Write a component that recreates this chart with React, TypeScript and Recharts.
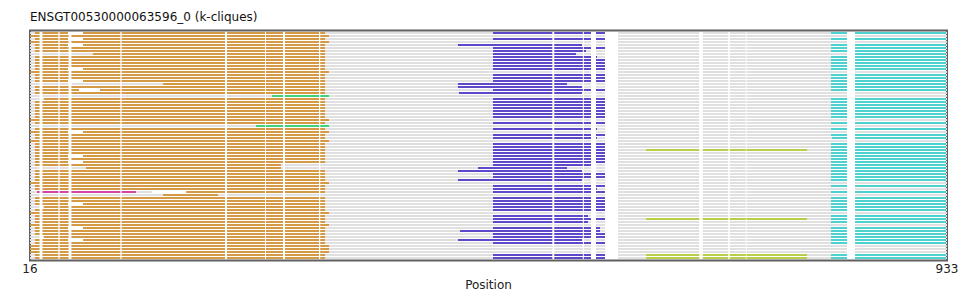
import React from 'react';
import { ComposedChart, Line, XAxis, YAxis, ReferenceArea } from 'recharts';

const TITLE = 'ENSGT00530000063596_0 (k-cliques)';
const X_LABEL = 'Position';
const X_TICKS = [16, 933];
const ROW_COUNT = 76;
const TRACK: [number, number] = [16, 933];
const ROW_PAD = 5 / 6;

// alignment gap columns shared by every sequence (positions)
const gapColumns: [number, number][] = [
  [25.5, 28.5], [44.3, 45.7], [54.5, 57.5], [106.3, 107.7], [211, 213], [251, 252], [269, 271], [305, 306.3],
  [538.3, 540.3], [568.8, 569.9], [577, 582], [591, 604], [685.2, 688.8], [714.2, 715.8], [731.8, 732.6], [833, 841],
];

// extra gaps for single sequences: [row, start, end]
const rowGaps: [number, number, number][] = [
  [0, 54, 69], [2, 54, 69], [4, 54, 69], [12, 54, 69], [16, 54, 69], [19, 65, 86],
  [33, 54, 69], [41, 54, 69], [43, 54, 69], [53, 138, 172], [57, 54, 69], [65, 54, 69], [69, 54, 69],
];

// clique runs: [row, start, end]
const orangeRuns: [number, number, number][] = [
  [0, 21, 311], [1, 16, 315], [2, 21, 311], [3, 16, 315], [4, 21, 311], [5, 21, 311], [6, 21, 311],
  [7, 79, 311], [8, 21, 311], [9, 21, 311], [10, 21, 311], [11, 21, 311], [12, 21, 311], [13, 16, 315],
  [14, 21, 311], [15, 21, 311], [16, 21, 311], [17, 149, 311], [18, 21, 311], [19, 21, 311], [20, 21, 311],
  [22, 30, 311], [23, 21, 311], [24, 21, 311], [25, 21, 311], [26, 21, 311], [27, 21, 311], [28, 21, 311],
  [29, 16, 315], [30, 21, 311], [32, 21, 311], [33, 16, 315], [34, 21, 311], [35, 21, 311], [36, 16, 315],
  [37, 21, 311], [38, 21, 311], [39, 21, 311], [40, 21, 311], [41, 21, 311], [42, 21, 311], [43, 21, 311],
  [44, 21, 267], [45, 72, 267], [46, 21, 311], [47, 21, 311], [48, 21, 311], [49, 21, 311], [50, 16, 315],
  [51, 21, 311], [52, 21, 311], [53, 172, 311], [54, 149, 204], [55, 21, 311], [56, 21, 311], [57, 21, 311],
  [58, 30, 311], [59, 21, 311], [60, 16, 315], [61, 21, 311], [62, 21, 311], [63, 21, 311], [64, 16, 315],
  [65, 21, 311], [66, 21, 311], [67, 21, 311], [68, 30, 311], [69, 21, 311], [70, 21, 311], [71, 16, 315],
  [72, 16, 315], [73, 16, 315], [74, 21, 311], [75, 21, 311],
];

const purpleRuns: [number, number, number][] = [
  [0, 479, 591], [2, 479, 591], [4, 444, 568], [5, 479, 591], [6, 479, 572], [7, 479, 562], [8, 479, 583],
  [9, 479, 591], [10, 479, 591], [11, 479, 591], [12, 479, 591], [14, 479, 591], [15, 479, 591], [16, 479, 591],
  [17, 444, 553], [18, 444, 568], [19, 479, 591], [20, 445, 568], [22, 479, 591], [23, 479, 591], [24, 479, 591],
  [25, 479, 591], [26, 479, 591], [27, 479, 591], [28, 479, 591], [30, 479, 591], [32, 479, 583], [34, 479, 591],
  [35, 479, 583], [37, 479, 591], [38, 479, 591], [39, 479, 591], [40, 479, 591], [41, 479, 591], [42, 479, 591],
  [43, 479, 591], [44, 479, 581], [45, 464, 553], [46, 444, 568], [47, 479, 591], [48, 479, 591], [49, 444, 568],
  [51, 479, 591], [52, 479, 583], [53, 479, 591], [55, 479, 591], [56, 479, 591], [57, 479, 591], [58, 479, 591],
  [59, 479, 591], [61, 479, 574], [62, 479, 591], [63, 479, 574], [65, 479, 586], [66, 446, 586], [67, 479, 591],
  [68, 479, 591], [69, 444, 568], [70, 479, 591], [74, 479, 591], [75, 479, 591],
];

const oliveRuns: [number, number, number][] = [
  [39, 632, 793], [62, 632, 793], [74, 632, 793], [75, 632, 793],
];

const cyanRuns: [number, number, number][] = [
  [0, 817, 932], [2, 817, 932], [4, 817, 932], [5, 817, 932], [6, 817, 932], [7, 833, 932], [8, 817, 932],
  [9, 817, 932], [10, 817, 932], [11, 817, 932], [12, 817, 932], [14, 817, 932], [15, 817, 932], [16, 817, 932],
  [17, 817, 932], [18, 817, 932], [19, 817, 932], [22, 817, 932], [23, 817, 932], [24, 817, 932], [25, 817, 932],
  [26, 817, 932], [27, 817, 932], [28, 817, 932], [30, 817, 932], [32, 817, 932], [34, 817, 932], [35, 818, 932],
  [37, 817, 932], [38, 817, 932], [39, 817, 932], [40, 817, 932], [41, 817, 932], [42, 817, 932], [43, 817, 932],
  [44, 817, 932], [45, 817, 932], [46, 817, 932], [47, 817, 932], [48, 817, 932], [49, 817, 932], [51, 817, 932],
  [53, 817, 932], [55, 817, 932], [56, 817, 932], [57, 817, 932], [58, 817, 932], [59, 817, 932], [61, 817, 932],
  [62, 817, 932], [63, 817, 932], [65, 817, 932], [66, 817, 932], [67, 817, 932], [68, 817, 932], [69, 817, 932],
  [70, 817, 932], [74, 817, 932], [75, 817, 932],
];

const greenRuns: [number, number, number][] = [
  [21, 258, 315], [31, 242, 315],
];

const magentaRuns: [number, number, number][] = [
  [53, 23, 122],
];

const COLORS = {
  track: '#e0e0e0',
  orange: '#d49a45',
  purple: '#5e48ca',
  olive: '#b9cd48',
  cyan: '#4ed2d0',
  green: '#3fd27c',
  magenta: '#d645a4',
  frame: '#606060',
};

type Pt = { x: number; y: number | null };

function cut(a: number, b: number, gaps: [number, number][]): [number, number][] {
  const out: [number, number][] = [];
  let s = a;
  const sorted = gaps.filter((g) => g[1] > a && g[0] < b).sort((p, q) => p[0] - q[0]);
  for (const [g0, g1] of sorted) {
    if (g0 > s) out.push([s, Math.min(g0, b)]);
    s = Math.max(s, g1);
    if (s >= b) break;
  }
  if (s < b) out.push([s, b]);
  return out;
}

function buildLine(runs: [number, number, number][]): Pt[] {
  const pts: Pt[] = [];
  for (const [row, a, b] of runs) {
    const gaps = gapColumns.concat(
      rowGaps.filter((g) => g[0] === row).map((g) => [g[1], g[2]] as [number, number])
    );
    for (const [s, e] of cut(a, b, gaps)) {
      pts.push({ x: s, y: row }, { x: e, y: row }, { x: e, y: null });
    }
  }
  return pts;
}

const trackRuns: [number, number, number][] = Array.from({ length: ROW_COUNT }, (_, r) => [r, TRACK[0], TRACK[1]]);

const series: { key: string; color: string; runs: [number, number, number][] }[] = [
  { key: 'track', color: COLORS.track, runs: trackRuns },
  { key: 'orange', color: COLORS.orange, runs: orangeRuns },
  { key: 'purple', color: COLORS.purple, runs: purpleRuns },
  { key: 'olive', color: COLORS.olive, runs: oliveRuns },
  { key: 'cyan', color: COLORS.cyan, runs: cyanRuns },
  { key: 'green', color: COLORS.green, runs: greenRuns },
  { key: 'magenta', color: COLORS.magenta, runs: magentaRuns },
];

export default function App() {
  return (
    <div
      style={{
        position: 'absolute',
        left: 0,
        top: 0,
        width: 977,
        height: 291,
        background: '#fff',
        fontFamily: '"DejaVu Sans", sans-serif',
      }}
    >
      <div
        style={{
          position: 'absolute',
          left: 30,
          top: 10,
          fontSize: 12,
          lineHeight: 'normal',
          color: '#111',
          whiteSpace: 'nowrap',
        }}
      >
        {TITLE}
      </div>
      <ComposedChart width={977} height={291} margin={{ top: 30.5, right: 30, bottom: 0.5, left: 30 }}>
        <XAxis
          type="number"
          dataKey="x"
          domain={[TRACK[0], TRACK[1]]}
          allowDataOverflow
          ticks={X_TICKS}
          interval={0}
          tickLine={false}
          axisLine={false}
          tickSize={0}
          tickMargin={4}
          height={30}
          tick={{ fill: '#222', fontSize: 12 }}
          label={{ value: X_LABEL, position: 'insideBottom', offset: 2, fill: '#222', fontSize: 12 }}
        />
        <YAxis
          type="number"
          dataKey="y"
          domain={[-ROW_PAD, ROW_COUNT - 1 + ROW_PAD]}
          reversed
          hide
          allowDataOverflow
        />
        {series.map((s) => (
          <Line
            key={s.key}
            data={buildLine(s.runs)}
            dataKey="y"
            type="linear"
            stroke={s.color}
            strokeWidth={2}
            dot={false}
            activeDot={false}
            connectNulls={false}
            isAnimationActive={false}
          />
        ))}
        <ReferenceArea
          x1={TRACK[0]}
          x2={TRACK[1]}
          y1={-ROW_PAD}
          y2={ROW_COUNT - 1 + ROW_PAD}
          fill="none"
          fillOpacity={0}
          stroke={COLORS.frame}
          strokeWidth={2}
          ifOverflow="visible"
        />
      </ComposedChart>
    </div>
  );
}
